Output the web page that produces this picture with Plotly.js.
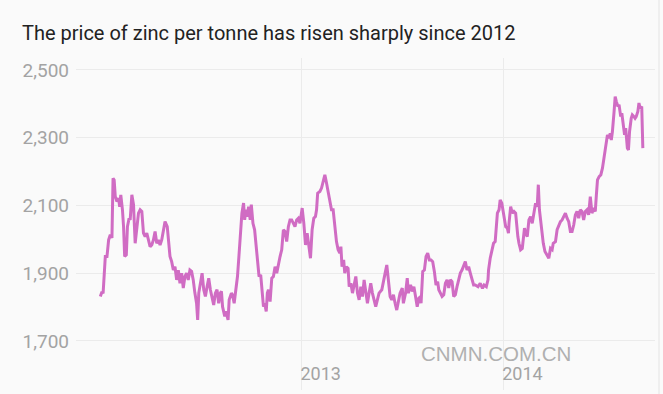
<!DOCTYPE html>
<html>
<head>
<meta charset="utf-8">
<script src="https://cdn.plot.ly/plotly-3.0.1.min.js"></script>
<style>html,body{margin:0;padding:0;background:#fafafa;}#chart{width:663px;height:394px;}</style>
</head>
<body>
<div id="chart"></div>
<script>
// Zinc price (USD per tonne)
const dates = [
"2012-01-03","2012-01-06","2012-01-08","2012-01-12","2012-01-15","2012-01-18","2012-01-21","2012-01-24","2012-01-26","2012-01-28",
"2012-01-30","2012-02-02","2012-02-05","2012-02-07","2012-02-09","2012-02-12","2012-02-14","2012-02-16","2012-02-19","2012-02-21",
"2012-02-24","2012-02-26","2012-02-29","2012-03-03","2012-03-06","2012-03-09","2012-03-12","2012-03-15","2012-03-18","2012-03-21",
"2012-03-24","2012-03-27","2012-03-30","2012-04-02","2012-04-05","2012-04-08","2012-04-11","2012-04-14","2012-04-17","2012-04-20",
"2012-04-23","2012-04-26","2012-04-29","2012-05-03","2012-05-05","2012-05-08","2012-05-11","2012-05-14","2012-05-17","2012-05-20",
"2012-05-23","2012-05-26","2012-05-29","2012-06-01","2012-06-04","2012-06-07","2012-06-10","2012-06-13","2012-06-16","2012-06-19",
"2012-06-22","2012-06-25","2012-06-27","2012-06-29","2012-07-03","2012-07-05","2012-07-08","2012-07-11","2012-07-14","2012-07-17",
"2012-07-20","2012-07-23","2012-07-26","2012-07-29","2012-08-01","2012-08-04","2012-08-07","2012-08-09","2012-08-11","2012-08-15",
"2012-08-17","2012-08-21","2012-08-23","2012-08-27","2012-08-29","2012-09-01","2012-09-04","2012-09-07","2012-09-10","2012-09-13",
"2012-09-15","2012-09-18","2012-09-20","2012-09-22","2012-09-25","2012-09-27","2012-09-30","2012-10-02","2012-10-05","2012-10-08",
"2012-10-10","2012-10-13","2012-10-16","2012-10-19","2012-10-21","2012-10-24","2012-10-26","2012-10-29","2012-10-31","2012-11-02",
"2012-11-05","2012-11-08","2012-11-11","2012-11-14","2012-11-17","2012-11-20","2012-11-23","2012-11-26","2012-11-29","2012-12-02",
"2012-12-05","2012-12-08","2012-12-11","2012-12-14","2012-12-17","2012-12-20","2012-12-23","2012-12-26","2012-12-29",
"2013-01-02","2013-01-05","2013-01-08","2013-01-11","2013-01-14","2013-01-17","2013-01-20","2013-01-23","2013-01-26","2013-01-28",
"2013-01-30","2013-02-03","2013-02-06","2013-02-09","2013-02-12","2013-02-15","2013-02-18","2013-02-21","2013-02-24","2013-02-27",
"2013-03-02","2013-03-05","2013-03-08","2013-03-11","2013-03-13","2013-03-15","2013-03-18","2013-03-20","2013-03-23","2013-03-26",
"2013-03-28","2013-03-31","2013-04-03","2013-04-06","2013-04-09","2013-04-12","2013-04-15","2013-04-18","2013-04-21","2013-04-24",
"2013-04-27","2013-04-30","2013-05-03","2013-05-06","2013-05-09","2013-05-12","2013-05-15","2013-05-18","2013-05-21","2013-05-26",
"2013-05-29","2013-06-01","2013-06-04","2013-06-07","2013-06-10","2013-06-13","2013-06-16","2013-06-19","2013-06-22","2013-06-25",
"2013-06-28","2013-07-02","2013-07-04","2013-07-08","2013-07-11","2013-07-13","2013-07-17","2013-07-20","2013-07-23","2013-07-26",
"2013-07-29","2013-08-01","2013-08-04","2013-08-05","2013-08-08","2013-08-11","2013-08-14","2013-08-17","2013-08-20","2013-08-23",
"2013-08-26","2013-08-29","2013-09-01","2013-09-04","2013-09-06","2013-09-09","2013-09-12","2013-09-15","2013-09-18","2013-09-21",
"2013-09-24","2013-09-27","2013-09-30","2013-10-03","2013-10-06","2013-10-09","2013-10-12","2013-10-15","2013-10-18","2013-10-21",
"2013-10-24","2013-10-27","2013-10-30","2013-11-02","2013-11-05","2013-11-08","2013-11-11","2013-11-16","2013-11-20","2013-11-24",
"2013-11-27","2013-12-01","2013-12-04","2013-12-05","2013-12-08","2013-12-11","2013-12-14","2013-12-17","2013-12-19","2013-12-21",
"2013-12-24","2013-12-26","2013-12-29","2013-12-31",
"2014-01-03","2014-01-05","2014-01-08","2014-01-10","2014-01-11","2014-01-14","2014-01-17","2014-01-20","2014-01-23","2014-01-25",
"2014-01-27","2014-01-29","2014-02-01","2014-02-04","2014-02-06","2014-02-08","2014-02-10","2014-02-13","2014-02-16","2014-02-19",
"2014-02-22","2014-02-25","2014-02-28","2014-03-03","2014-03-05","2014-03-07","2014-03-10","2014-03-12","2014-03-14","2014-03-17",
"2014-03-21","2014-03-24","2014-03-27","2014-03-30","2014-04-01","2014-04-05","2014-04-08","2014-04-11","2014-04-14","2014-04-17",
"2014-04-20","2014-04-23","2014-04-26","2014-04-29","2014-05-02","2014-05-05","2014-05-08","2014-05-11","2014-05-14","2014-05-17",
"2014-05-20","2014-05-23","2014-05-26","2014-05-29","2014-06-01","2014-06-04","2014-06-07","2014-06-10","2014-06-13","2014-06-16",
"2014-06-18","2014-06-20","2014-06-23","2014-06-26","2014-06-29","2014-07-02","2014-07-04","2014-07-06","2014-07-08","2014-07-11",
"2014-07-13","2014-07-15","2014-07-17","2014-07-20","2014-07-22","2014-07-24","2014-07-27","2014-07-29","2014-08-01","2014-08-03",
"2014-08-05","2014-08-08","2014-08-10","2014-08-13","2014-08-15","2014-08-17","2014-08-20","2014-08-22","2014-08-25","2014-08-27",
"2014-08-29","2014-09-01","2014-09-03","2014-09-05","2014-09-08","2014-09-10"
];
const prices = [
1831,1845,1840,1949,1949,1998,2013,2004,2180,2175,
2126,2111,2121,2096,2131,2087,2037,1949,1954,2037,
2062,2057,2131,2102,1988,2037,2077,2087,2082,2018,
2008,2018,1993,1978,1983,1998,2023,1988,1998,1983,
1998,2032,2052,2037,1998,1949,1934,1909,1919,1880,
1909,1870,1900,1856,1890,1900,1880,1909,1905,1880,
1841,1811,1762,1841,1880,1900,1851,1831,1860,1885,
1851,1831,1806,1841,1851,1811,1841,1846,1801,1772,
1787,1762,1821,1841,1836,1811,1856,1890,1959,2028,
2077,2107,2057,2087,2067,2096,2057,2102,2047,2028,
1988,1939,1890,1895,1851,1801,1811,1787,1841,1851,
1816,1885,1890,1919,1900,1929,1949,1969,2028,2023,
1993,2037,2057,2057,2047,2037,2057,2062,2047,
2092,2047,1983,2018,1978,1944,2028,2062,2067,2087,
2136,2141,2151,2175,2190,2166,2141,2116,2087,2087,
2037,1993,1969,1959,1978,1919,1939,1900,1919,1914,
1860,1870,1841,1870,1890,1841,1821,1860,1831,1880,
1851,1811,1841,1870,1841,1821,1801,1821,1841,1851,
1880,1900,1924,1880,1831,1821,1836,1811,1791,1816,
1841,1856,1811,1841,1885,1841,1865,1846,1860,1831,
1801,1826,1831,1811,1905,1909,1949,1959,1939,1939,
1934,1905,1865,1875,1851,1841,1831,1836,1870,1880,
1856,1880,1875,1831,1836,1860,1880,1900,1909,1924,
1934,1909,1919,1900,1880,1865,1865,1860,1870,1855,
1865,1860,1880,1909,1944,1969,1988,1993,2028,2077,
2087,2116,2106,2087,
2057,2037,2033,2018,2047,2096,2077,2082,2077,2028,
2008,1988,1969,1973,2008,2033,2018,2008,2057,2067,
2047,2077,2106,2096,2161,2087,2047,2008,1988,1964,
1954,1944,1973,1969,1988,1993,2028,2042,2052,2057,
2067,2077,2062,2052,2023,2023,2042,2072,2082,2062,
2087,2082,2057,2082,2087,2072,2126,2077,2092,2082,
2131,2175,2185,2190,2210,2244,2254,2284,2308,2298,
2313,2293,2318,2377,2421,2407,2392,2397,2362,2372,
2338,2308,2328,2269,2264,2318,2357,2367,2362,2357,
2362,2377,2402,2387,2392,2269
];
const yearTicks = ["2013-01-01","2014-01-01"];
const yearLabels = ["2013","2014"];
const priceTicks = [1700,1900,2100,2300,2500];
const priceLabels = ["1,700","1,900","2,100","2,300","2,500"];
const titleText = "The price of zinc per tonne has risen sharply since 2012";
const watermark = "CNMN.COM.CN";

const trace = {
  x: dates, y: prices, type: "scatter", mode: "lines",
  line: {color: "#d06cc3", width: 3, shape: "linear"},
  hoverinfo: "skip"
};

const layout = {
  width: 663, height: 394,
  paper_bgcolor: "#fafafa", plot_bgcolor: "#fafafa",
  margin: {l: 76, r: 8, t: 58, b: 4},
  showlegend: false,
  title: {
    text: titleText, x: 22/663, xanchor: "left", xref: "container",
    y: 1 - 33/394, yanchor: "middle", yref: "container",
    font: {family: "Roboto, 'Noto Sans', sans-serif", size: 20, color: "#222222"}
  },
  xaxis: {
    type: "date",
    range: ["2011-11-20", "2014-10-02"],
    tickvals: yearTicks, ticktext: yearLabels,
    showgrid: true, gridcolor: "#ebebeb", gridwidth: 1,
    zeroline: false, showline: false, ticks: "",
    ticklabelposition: "inside", ticklabelshift: 19, ticklabelstandoff: 3,
    tickfont: {family: "Roboto, sans-serif", size: 18, color: "#a3a3a3"},
    fixedrange: true
  },
  yaxis: {
    range: [1555, 2535],
    tickvals: priceTicks, ticktext: priceLabels,
    showgrid: true, gridcolor: "#ebebeb", gridwidth: 1,
    zeroline: false, showline: false, ticks: "",
    ticklabelstandoff: 6,
    tickfont: {family: "Roboto, sans-serif", size: 19, color: "#a3a3a3"},
    fixedrange: true
  },
  shapes: [{
    type: "line", xref: "paper", yref: "paper",
    x0: (659 - 76) / (663 - 84), x1: (659 - 76) / (663 - 84),
    y0: -0.02, y1: 1.2,
    line: {color: "#e4e4e4", width: 1}
  }],
  annotations: [{
    text: watermark, xref: "paper", yref: "paper",
    x: (496 - 76) / (663 - 84), y: (394 - 4 - 353) / (394 - 62),
    xanchor: "center", yanchor: "middle", showarrow: false,
    font: {family: "'Liberation Sans', Arial, sans-serif", size: 20.5, color: "#b0b0b0"}
  }]
};

Plotly.newPlot("chart", [trace], layout, {displayModeBar: false, staticPlot: true});
</script>
</body>
</html>
